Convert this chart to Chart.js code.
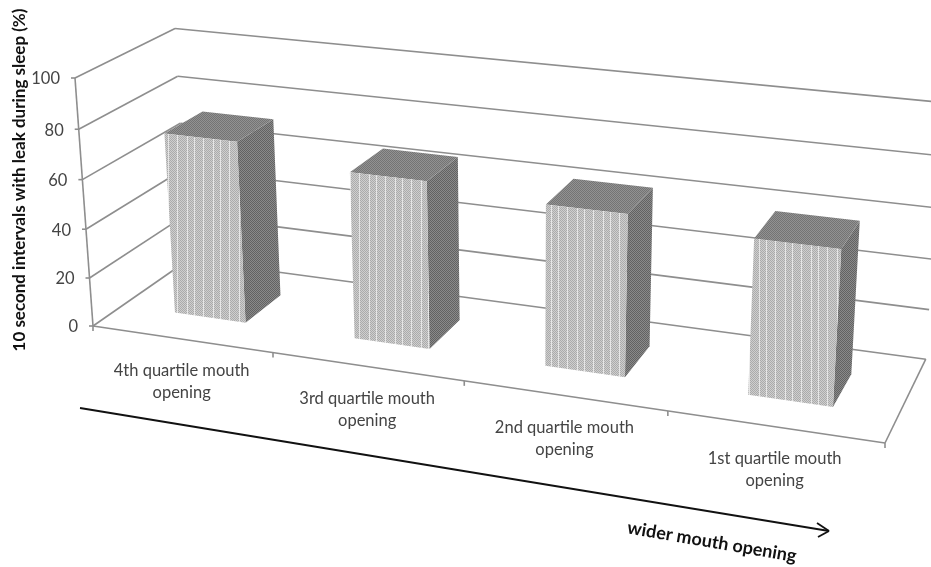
<!DOCTYPE html>
<html>
<head>
<meta charset="utf-8">
<title>Leak by mouth opening</title>
<script src="https://cdn.jsdelivr.net/npm/chart.js@4"></script>
<style>
  html, body { margin: 0; padding: 0; background: #fff; }
  canvas { display: block; }
</style>
</head>
<body>
<canvas id="grafico" width="931" height="567"></canvas>
<script>
const categorias = [
  ["4th quartile mouth", "opening"],
  ["3rd quartile mouth", "opening"],
  ["2nd quartile mouth", "opening"],
  ["1st quartile mouth", "opening"]
];
const valores = [74, 67, 63.5, 60];
const ticksY = [0, 20, 40, 60, 80, 100];
const tituloY = "10 second intervals with leak during sleep (%)";
const tituloSeta = "wider mouth opening";

// perspective box: corners of the plot on screen + how fast each axis shrinks
const origem = [93, 326];
const cantoX = [885, 443];
const cantoY = [75, 78];
const cantoZ = [188, 260];
const fugaX = -0.1176, fugaY = -0.04, fugaZ = 0.08;
const frenteBarra = 0.3, fundoBarra = 0.7;

const corTexto = "#444444";
const fonteTexto = "16.5px Lato";

function projetar(u, v, d) {
  const w = 1 + fugaX * u + fugaY * v + fugaZ * d;
  const eixo = (canto, f, i) => (1 + f) * canto[i] - origem[i];
  const coord = i => origem[i]
    + u * eixo(cantoX, fugaX, i)
    + v * eixo(cantoY, fugaY, i)
    + d * eixo(cantoZ, fugaZ, i);
  return [coord(0) / w, coord(1) / w];
}

function criarPadrao(ctx, larg, alt, pintar) {
  const c = document.createElement("canvas");
  c.width = larg;
  c.height = alt;
  pintar(c.getContext("2d"));
  return ctx.createPattern(c, "repeat");
}

function pontilhado(claro, escuro) {
  return g => {
    for (let x = 0; x < 2; x++) {
      for (let y = 0; y < 2; y++) {
        g.fillStyle = (x + y) % 2 ? claro : escuro;
        g.fillRect(x, y, 1, 1);
      }
    }
  };
}

function padraoFrente(g) {
  for (let x = 0; x < 26; x++) {
    for (let y = 0; y < 2; y++) {
      g.fillStyle = (x + y) % 2 ? "#cfcfcf" : "#ababab";
      g.fillRect(x, y, 1, 1);
    }
  }
  g.fillStyle = "#e6e6e6";
  [5, 12, 21].forEach(x => g.fillRect(x, 0, 1, 2));
}

function poligono(ctx, pontos, cor) {
  ctx.beginPath();
  pontos.forEach((p, i) => i ? ctx.lineTo(p[0], p[1]) : ctx.moveTo(p[0], p[1]));
  ctx.closePath();
  ctx.fillStyle = cor;
  ctx.fill();
}

function linha(ctx, a, b) {
  ctx.beginPath();
  ctx.moveTo(a[0], a[1]);
  ctx.lineTo(b[0], b[1]);
  ctx.stroke();
}

const caixa3d = {
  id: "caixa3d",
  beforeDatasetsDraw(chart) {
    const { ctx, chartArea: area, scales } = chart;
    const fracY = val => (area.bottom - scales.y.getPixelForValue(val)) / area.height;

    ctx.save();
    ctx.strokeStyle = "#8e8e8e";
    ctx.lineWidth = 1.6;

    // walls: one line per y tick, left wall then back wall
    ticksY.forEach(t => {
      const v = fracY(t);
      const a = projetar(0, v, 0), b = projetar(0, v, 1), c = projetar(1, v, 1);
      linha(ctx, [a[0] - 4, a[1]], a);
      linha(ctx, a, b);
      linha(ctx, b, c);
    });
    // vertical axis and floor edges
    linha(ctx, projetar(0, 0, 0), projetar(0, 1, 0));
    linha(ctx, projetar(0, 0, 0), projetar(1, 0, 0));
    linha(ctx, projetar(1, 0, 0), projetar(1, 0, 1));

    // ticks under the front edge
    categorias.concat([null]).forEach((_, i) => {
      const p = projetar(i / categorias.length, 0, 0);
      linha(ctx, p, [p[0], p[1] + 5]);
    });
    ctx.restore();
  },
  afterDatasetsDraw(chart) {
    const { ctx, chartArea: area } = chart;
    const fr = criarPadrao(ctx, 26, 2, padraoFrente);
    const lado = criarPadrao(ctx, 2, 2, pontilhado("#8a8a8a", "#626262"));
    const topo = criarPadrao(ctx, 2, 2, pontilhado("#929292", "#747474"));

    // the bars come from chart.js, only the faces are projected here
    chart.getDatasetMeta(0).data.forEach(barra => {
      const u0 = (barra.x - barra.width / 2 - area.left) / area.width;
      const u1 = (barra.x + barra.width / 2 - area.left) / area.width;
      const v = (area.bottom - barra.y) / area.height;
      const d0 = frenteBarra, d1 = fundoBarra;

      poligono(ctx, [projetar(u1, 0, d0), projetar(u1, 0, d1), projetar(u1, v, d1), projetar(u1, v, d0)], lado);
      poligono(ctx, [projetar(u0, v, d0), projetar(u1, v, d0), projetar(u1, v, d1), projetar(u0, v, d1)], topo);
      poligono(ctx, [projetar(u0, 0, d0), projetar(u1, 0, d0), projetar(u1, v, d0), projetar(u0, v, d0)], fr);
    });
  },
  afterDraw(chart) {
    const { ctx, chartArea: area, scales } = chart;
    ctx.save();
    ctx.fillStyle = corTexto;
    ctx.font = fonteTexto;
    ctx.textBaseline = "middle";

    // y tick labels
    ctx.textAlign = "right";
    ticksY.forEach(t => {
      const v = (area.bottom - scales.y.getPixelForValue(t)) / area.height;
      const p = projetar(0, v, 0);
      ctx.fillText(String(t), p[0] - 15, p[1] + 1);
    });

    // category labels
    ctx.textAlign = "center";
    categorias.forEach((linhas, i) => {
      const u = (scales.x.getPixelForTick(i) - area.left) / area.width;
      const p = projetar(u, 0, 0);
      linhas.forEach((txt, j) => ctx.fillText(txt, p[0], p[1] + 32 + j * 22));
    });

    // y axis title
    ctx.fillStyle = "#111";
    ctx.font = "bold 17px Lato";
    ctx.save();
    ctx.translate(20, 180);
    ctx.rotate(-Math.PI / 2);
    ctx.fillText(tituloY, 0, 0);
    ctx.restore();

    // arrow with its label
    ctx.strokeStyle = "#111";
    ctx.lineWidth = 1.8;
    linha(ctx, [80, 408], [829, 531]);
    linha(ctx, [817, 523], [829, 531]);
    linha(ctx, [829, 531], [818, 537]);

    ctx.save();
    ctx.translate(712, 542);
    ctx.rotate(9.7 * Math.PI / 180);
    ctx.font = "bold 18px Lato";
    ctx.fillText(tituloSeta, 0, 0);
    ctx.restore();
    ctx.restore();
  }
};

new Chart(document.getElementById("grafico").getContext("2d"), {
  type: "bar",
  data: {
    labels: categorias,
    datasets: [{
      data: valores,
      backgroundColor: "rgba(0,0,0,0)",
      categoryPercentage: 0.4,
      barPercentage: 1
    }]
  },
  options: {
    responsive: false,
    animation: false,
    layout: { padding: 40 },
    plugins: { legend: { display: false }, tooltip: { enabled: false } },
    scales: {
      x: { display: false },
      y: { display: false, min: 0, max: 100, ticks: { stepSize: 20 } }
    }
  },
  plugins: [caixa3d]
});
</script>
</body>
</html>
